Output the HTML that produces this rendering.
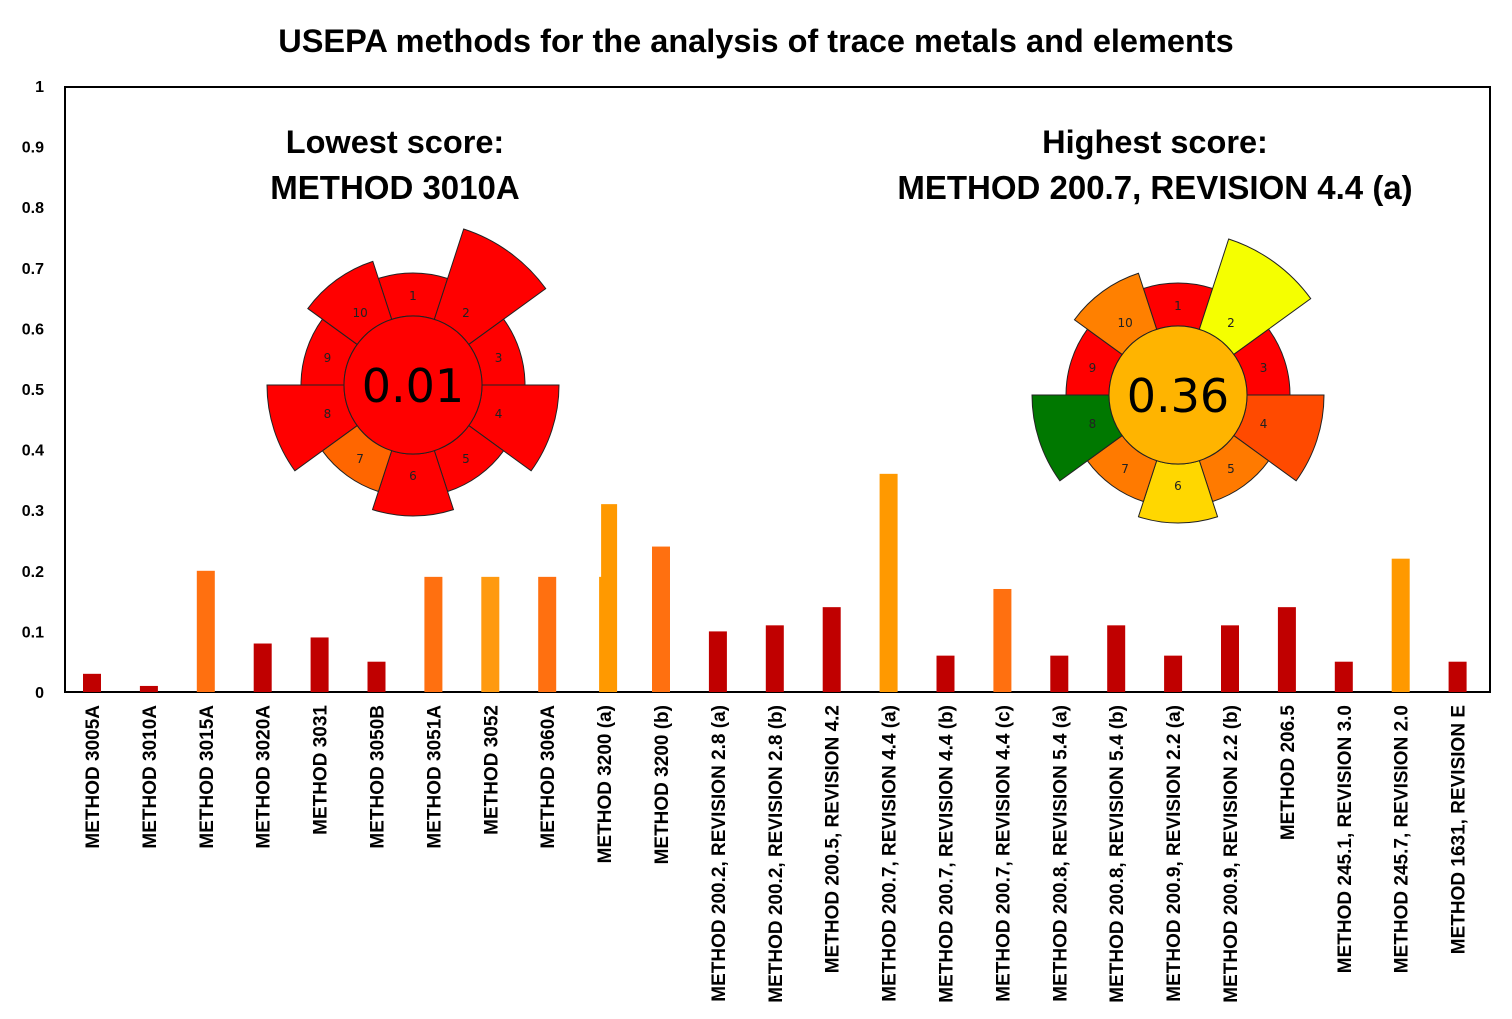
<!DOCTYPE html>
<html><head><meta charset="utf-8"><style>
body{margin:0;background:#fff;}
svg{display:block;font-family:"Liberation Sans",sans-serif;}
</style></head><body>
<svg id="s" width="1512" height="1019" viewBox="0 0 1512 1019" xmlns="http://www.w3.org/2000/svg">
<rect width="1512" height="1019" fill="#fff"/>
<text x="756" y="52" text-anchor="middle" font-size="32.5" font-weight="bold">USEPA methods for the analysis of trace metals and elements</text>
<rect x="65" y="87" width="1425" height="605" fill="none" stroke="#000" stroke-width="2"/>
<g id="yt" font-size="16" font-weight="bold" text-anchor="end"></g>
<g id="bars"></g>
<g id="xl" font-size="19" font-weight="bold"></g>
<text x="395" y="153" text-anchor="middle" font-size="32.5" font-weight="bold">Lowest score:</text>
<text x="395" y="199" text-anchor="middle" font-size="33" font-weight="bold">METHOD 3010A</text>
<text x="1155" y="153" text-anchor="middle" font-size="32.5" font-weight="bold">Highest score:</text>
<text x="1155" y="199" text-anchor="middle" font-size="33" font-weight="bold">METHOD 200.7, REVISION 4.4 (a)</text>
<g id="p1"></g><g id="p2"></g>
</svg>
<script>
const NS="http://www.w3.org/2000/svg";
function el(p,t,a,txt){const e=document.createElementNS(NS,t);for(const k in a)e.setAttribute(k,a[k]);if(txt!==undefined)e.textContent=txt;p.appendChild(e);return e;}
const y0=692,sc=606;
const yt=document.getElementById('yt');
for(let i=0;i<=10;i++){const v=i/10;el(yt,'text',{x:44,y:y0-v*sc+6},i==0?'0':i==10?'1':v.toFixed(1));}
const names=["METHOD 3005A","METHOD 3010A","METHOD 3015A","METHOD 3020A","METHOD 3031","METHOD 3050B","METHOD 3051A","METHOD 3052","METHOD 3060A","METHOD 3200 (a)","METHOD 3200 (b)","METHOD 200.2, REVISION 2.8 (a)","METHOD 200.2, REVISION 2.8 (b)","METHOD 200.5, REVISION 4.2","METHOD 200.7, REVISION 4.4 (a)","METHOD 200.7, REVISION 4.4 (b)","METHOD 200.7, REVISION 4.4 (c)","METHOD 200.8, REVISION 5.4 (a)","METHOD 200.8, REVISION 5.4 (b)","METHOD 200.9, REVISION 2.2 (a)","METHOD 200.9, REVISION 2.2 (b)","METHOD 206.5","METHOD 245.1, REVISION 3.0","METHOD 245.7,  REVISION 2.0","METHOD 1631, REVISION E"];
const vals=[.03,.01,.2,.08,.09,.05,.19,.19,.19,.31,.24,.10,.11,.14,.36,.06,.17,.06,.11,.06,.11,.14,.05,.22,.05];
const R="#c00000",O="#ff7010",A="#ff9900";
const cols=[R,R,O,R,R,R,O,"#ff9a10",O,A,O,R,R,R,A,R,O,R,R,R,R,R,R,A,R];
const bars=document.getElementById('bars'),xl=document.getElementById('xl');
for(let i=0;i<25;i++){const cx=92+i*56.9;const h=vals[i]*sc;
 if(i==9){el(bars,'rect',{x:cx-5,y:y0-.19*sc,width:6,height:.19*sc,fill:A});el(bars,'rect',{x:cx-3,y:y0-h,width:16,height:h,fill:A});}
 else el(bars,'rect',{x:cx-9,y:y0-h,width:18,height:h,fill:cols[i]});
 el(xl,'text',{x:0,y:0,transform:`translate(${cx+7},705) rotate(-90)`,'text-anchor':'end'},names[i]);}
function pict(g,cx,cy,segs,center,label){
 const ri=69;
 segs.forEach((s,k)=>{const a0=(-18+36*k-90)*Math.PI/180,a1=(18+36*k-90)*Math.PI/180,r=s[0];
  const p=`M${cx+ri*Math.cos(a0)},${cy+ri*Math.sin(a0)} L${cx+r*Math.cos(a0)},${cy+r*Math.sin(a0)} A${r},${r} 0 0 1 ${cx+r*Math.cos(a1)},${cy+r*Math.sin(a1)} L${cx+ri*Math.cos(a1)},${cy+ri*Math.sin(a1)} A${ri},${ri} 0 0 0 ${cx+ri*Math.cos(a0)},${cy+ri*Math.sin(a0)}Z`;
  el(g,'path',{d:p,fill:s[1],stroke:'#222','stroke-width':1});
  const am=(36*k-90)*Math.PI/180;el(g,'text',{x:cx+90*Math.cos(am),y:cy+90*Math.sin(am)+5,'text-anchor':'middle','font-family':'DejaVu Sans','font-size':12,fill:'#222'},String(k+1));});
 el(g,'circle',{cx:cx,cy:cy,r:ri,fill:center,stroke:'#222','stroke-width':1});
 el(g,'text',{x:cx,y:cy+17,'text-anchor':'middle','font-family':'DejaVu Sans','font-size':46},label);}
const r="#ff0000";
pict(document.getElementById('p1'),413,385,[[112,r],[164,r],[112,r],[146,r],[112,r],[131,r],[112,"#ff6600"],[146,r],[112,r],[130,r]],r,"0.01");
pict(document.getElementById('p2'),1178,395,[[112,r],[164,"#f5ff00"],[112,r],[146,"#ff4a00"],[112,"#ff7a00"],[128,"#ffd700"],[112,"#ff7a00"],[146,"#007800"],[112,r],[128,"#ff8000"]],"#ffb400","0.36");
</script>
</body></html>
